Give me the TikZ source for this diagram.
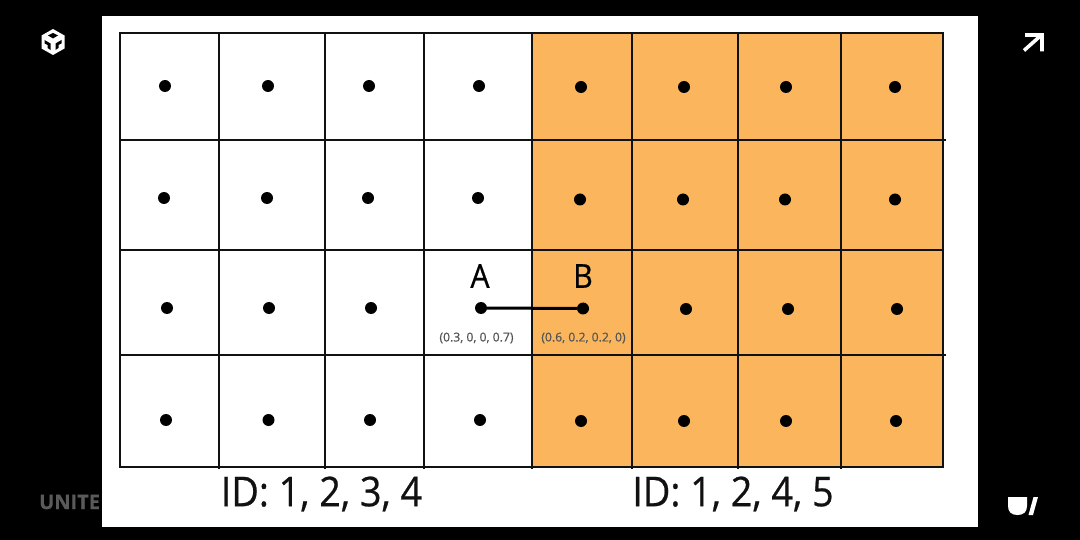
\documentclass[tikz,border=0pt]{standalone}
\usepackage{fontspec}
\setmainfont{Open Sans}
\newfontfamily\heavyfont[FakeBold=0.6]{Open Sans}
\definecolor{cellorange}{HTML}{FBB65D}
\definecolor{linegray}{HTML}{111111}
\definecolor{smalltext}{HTML}{555555}
\definecolor{unitegray}{HTML}{5A5A5A}
\tikzset{
  gridline/.style={draw=linegray,line width=2.9pt},
  dotnode/.style={circle,fill=black,inner sep=0pt,minimum size=12pt},
  idtext/.style={font=\heavyfont\fontsize{41}{41}\selectfont,text=linegray,inner sep=0pt,xscale=0.92},
  lettertext/.style={font=\heavyfont\fontsize{33}{33}\selectfont,text=black,inner sep=0pt,xscale=0.92},
  weighttext/.style={font=\heavyfont\fontsize{12.2}{12.2}\selectfont,text=smalltext,inner sep=0pt}
}
\begin{document}
\begin{tikzpicture}[x=1pt,y=-1pt]
\useasboundingbox (0,0) rectangle (1080,540);
\fill[black] (0,0) rectangle (1080,540);
% background marks
\node[font=\heavyfont\fontsize{20}{20}\selectfont\bfseries,text=unitegray,anchor=west,inner sep=0pt] (unite) at (39,502) {UNITE};
\fill[white] (102,16) rectangle (978,527);
\fill[cellorange] (532,33) rectangle (943,467);
% Unity logo
\fill[white] (53,29) -- (64.5,35.5) -- (64.5,48.5) -- (53,55) -- (41.5,48.5) -- (41.5,35.5) -- cycle;
\fill[black] (48,35.5) -- (53,33) -- (58,35.5) -- (53,38.5) -- cycle;
\fill[black] (44.5,40) -- (50.5,43.5) -- (50.5,50) -- (47.5,48) -- (47.5,45) -- (44.5,43.5) -- cycle;
\fill[black] (61.5,40) -- (55.5,43.5) -- (55.5,50) -- (58.5,48) -- (58.5,45) -- (61.5,43.5) -- cycle;
% arrow top right
\draw[white,line width=3.6pt] (1024,50.5) -- (1042,34.5) (1025,35) -- (1042,35) -- (1042,51.5);
% U/ logo
\fill[white] (1008,497) -- (1027,497) -- (1027,506) .. controls (1027,512) and (1023.5,515) .. (1017.5,515) .. controls (1011.5,515) and (1008,512) .. (1008,506) -- cycle;
\fill[white] (1033.5,497) -- (1038,497) -- (1033,515) -- (1028.5,515) -- cycle;
% grid
\draw[gridline] (120,33) rectangle (943,467);
\foreach \x in {219,325,424,532,632,738,841}
  \draw[gridline] (\x,33) -- (\x,469);
\draw[gridline] (120,140) -- (946,140);
\draw[gridline] (120,250) -- (943,250);
\draw[gridline] (120,355) -- (946,355);
% dots
\foreach \x/\y/\n in {165/86/a1,268/86/a2,369/86/a3,479/86/a4,581/87/a5,684/87/a6,786/87/a7,895/87/a8,
 164/198/b1,267/198/b2,368/198/b3,478/198/b4,580/199.5/b5,683/199.5/b6,785/199.5/b7,895/199.5/b8,
 167/308/c1,269/308/c2,371/308/c3,481/308/c4,583/308.5/c5,686/309/c6,788/309/c7,897/309/c8,
 166/420/d1,268.5/420/d2,370/420/d3,480/420/d4,581/421/d5,684/421/d6,786/421/d7,896/421/d8}
  \node[dotnode] (\n) at (\x,\y) {};
\draw[black,line width=3pt] (c4) -- (c5);
% labels
\node[lettertext] (la) at (480,276) {A};
\node[lettertext] (lb) at (583,276) {B};
\node[weighttext] (wa) at (476.5,338) {(0.3, 0, 0, 0.7)};
\node[weighttext] (wb) at (583.5,338) {(0.6, 0.2, 0.2, 0)};
\node[idtext] (ida) at (321.5,494) {ID: 1, 2, 3, 4};
\node[idtext] (idb) at (733,494) {ID: 1, 2, 4, 5};
\end{tikzpicture}
\end{document}
